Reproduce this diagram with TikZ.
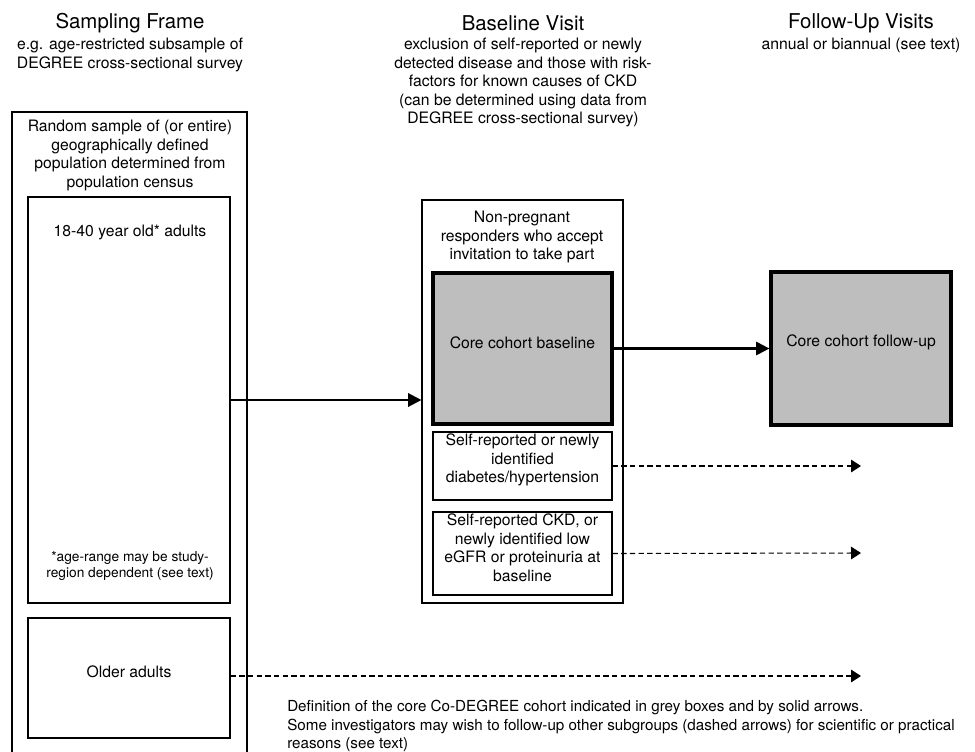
\documentclass[tikz,border=0pt]{standalone}
\usepackage{fontspec}
\setmainfont{TeX Gyre Heros}
\usetikzlibrary{arrows.meta,fit,positioning}
\definecolor{coregrey}{RGB}{190,190,190}

\begin{document}
\begin{tikzpicture}[x=0.75pt,y=-0.75pt,
		box/.style={draw, line width=0.8pt, inner sep=0pt},
		corebox/.style={draw, line width=2.4pt, fill=coregrey, inner sep=0pt},
		txt/.style={align=center, inner sep=0pt, font=\fontsize{11.8}{13.9}\selectfont},
		smalltxt/.style={align=center, inner sep=0pt, font=\fontsize{10.3}{12}\selectfont},
		head/.style={inner sep=0pt, font=\fontsize{15.3}{18}\selectfont},
		solidarrow/.style={line width=1.6pt, -{Triangle[length=10pt,width=10pt]}},
		dasharrow/.style={line width=0.8pt, dash pattern=on 4pt off 2.5pt, -{Triangle[length=7.5pt,width=9.5pt]}}]
		\useasboundingbox (0,0) rectangle (975,751);
		\clip (0,0) rectangle (975,751);

		\node[head] (sfhead) at (130,23) {Sampling Frame};
		\node[txt, anchor=north] (sfsub) at (130,38) {e.g. age-restricted subsample of\\DEGREE cross-sectional survey};
		\node[head] (bvhead) at (523,23) {Baseline Visit};
		\node[txt, anchor=north] (bvsub) at (523,38) {exclusion of self-reported or newly\\detected disease and those with risk-\\factors for known causes of CKD\\(can be determined using data from\\DEGREE cross-sectional survey)};
		\node[head] (fuhead) at (861,23) {Follow-Up Visits};
		\node[txt, anchor=north] (fusub) at (861,38) {annual or biannual (see text)};

		\node[box, fit={(12,112) (247,770)}] (frame) {};
		\node[txt, anchor=north] (framelbl) at (130,120) {Random sample of (or entire)\\geographically defined\\population determined from\\population census};
		\node[box, fit={(28,197) (230,603)}] (young) {};
		\node[txt] (younglbl) at (130,232) {18-40 year old* adults};
		\node[smalltxt] (agenote) at (130,566) {*age-range may be study-\\region dependent (see text)};
		\node[box, txt, fit={(28,618) (230,738)}] (older) {Older adults};

		\node[box, fit={(422,200) (623,603)}] (mid) {};
		\node[txt, anchor=north] (midlbl) at (522,211) {Non-pregnant\\responders who accept\\invitation to take part};
		\node[corebox, txt, fit={(433,273) (612,424)}] (base) {Core cohort baseline};
		\node[box, txt, fit={(433,432) (612,500)}] (diab) {Self-reported or newly\\identified\\diabetes/hypertension};
		\node[box, txt, fit={(433,512) (612,595)}] (ckd) {Self-reported CKD, or\\newly identified low\\eGFR or proteinuria at\\baseline};

		\node[corebox, txt, fit={(771,272) (951,425)}] (follow) {Core cohort follow-up};

		\coordinate (diabend) at (861,466);
		\coordinate (ckdend) at (861,553);
		\coordinate (olderend) at (861,676);

		\draw[solidarrow] (young.east) -- (young.east -| mid.west);
		\draw[solidarrow] (base) -- (follow);
		\draw[dasharrow] (diab.east) -- (diabend);
		\draw[dasharrow] (ckd.east) -- (ckdend);
		\draw[dasharrow] (older.east |- olderend) -- (olderend);

		\node[txt, align=left, anchor=north west, font=\fontsize{11.4}{13.9}\selectfont] (note) at (287,700) {Definition of the core Co-DEGREE cohort indicated in grey boxes and by solid arrows.\\Some investigators may wish to follow-up other subgroups (dashed arrows) for scientific or practical\\reasons (see text)};
	\end{tikzpicture}
\end{document}
